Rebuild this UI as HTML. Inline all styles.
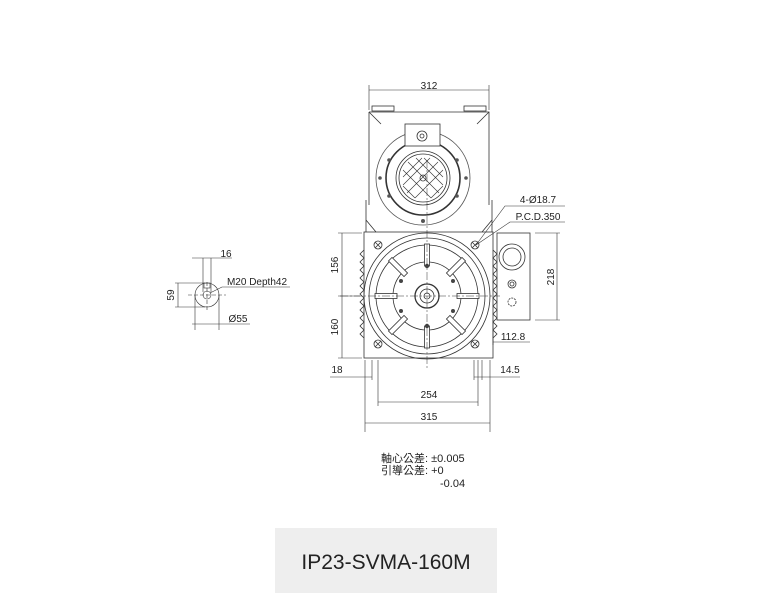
<!DOCTYPE html>
<html><head><meta charset="utf-8"><style>
html,body{margin:0;padding:0;background:#fff;width:768px;height:611px;overflow:hidden}
svg{display:block}
text{font-family:"Liberation Sans","Noto Sans CJK TC",sans-serif;fill:#222}
</style></head><body>
<svg width="768" height="611" viewBox="0 0 768 611">
<defs>
<g id="rib"><rect x="-2.5" y="-52" width="5" height="22" fill="#fff" stroke="#333" stroke-width="0.8"/></g>
</defs>
<g stroke="#333" stroke-width="0.8" fill="none">
<!-- upper housing -->
<path d="M369 112 L489 112 L489 205 M369 112 L369 205"/>
<path d="M369 112 L381 124 M489 112 L477 124"/>
<rect x="372" y="106" width="22" height="5"/><rect x="464" y="106" width="22" height="5"/>
<path d="M366 200 L366 232 M492 200 L492 232 M366 220 L376 232 M492 220 L482 232"/>
<circle cx="423" cy="178" r="47" stroke="#555"/>
<circle cx="423" cy="178" r="37" stroke-width="1.6"/>
<circle cx="423" cy="178" r="27"/>
<circle cx="423" cy="178" r="24"/>
<g fill="#555" stroke="none">
<circle cx="423" cy="221" r="2"/><circle cx="389" cy="160" r="1.8"/><circle cx="457" cy="160" r="1.8"/>
<circle cx="389" cy="196" r="1.8"/><circle cx="457" cy="196" r="1.8"/>
<circle cx="380" cy="178" r="1.8"/><circle cx="466" cy="178" r="1.8"/>
</g>
<rect x="405" y="124" width="35" height="22" fill="#fff"/>
<circle cx="422" cy="136" r="5"/><circle cx="422" cy="136" r="2"/>
<g stroke-width="0.6">
<path d="M403 170 L431 198 M408 162 L439 193 M416 158 L443 185 M403 186 L415 198 M424 158 L443 177"/>
<path d="M443 170 L415 198 M438 162 L407 193 M430 158 L403 185 M443 186 L431 198 M422 158 L403 177"/>
</g>
<circle cx="423" cy="178" r="3"/>
<!-- lower body -->
<rect x="364" y="232" width="129" height="126"/>
<path d="M364 250 l-4 4 l4 4 l-4 4 l4 4 l-4 4 l4 4 l-4 4 l4 4 l-4 4 l4 4 l-4 4 l4 4 l-4 4 l4 4 l-4 4 l4 4 l-4 4 l4 4 l-4 4 l4 4 l-4 4 l4 4"/>
<path d="M493 250 l4 4 l-4 4 l4 4 l-4 4 l4 4 l-4 4 l4 4 l-4 4 l4 4 l-4 4 l4 4 l-4 4 l4 4 l-4 4 l4 4 l-4 4 l4 4 l-4 4 l4 4 l-4 4 l4 4 l-4 4"/>
<circle cx="427" cy="296" r="63"/>
<circle cx="427" cy="296" r="58"/>
<circle cx="427" cy="296" r="51"/>
<circle cx="427" cy="296" r="34"/>
<g transform="translate(427,296)">
<use href="#rib"/><use href="#rib" transform="rotate(45)"/><use href="#rib" transform="rotate(90)"/><use href="#rib" transform="rotate(135)"/>
<use href="#rib" transform="rotate(180)"/><use href="#rib" transform="rotate(225)"/><use href="#rib" transform="rotate(270)"/><use href="#rib" transform="rotate(315)"/>
</g>
<circle cx="427" cy="296" r="12" stroke-width="1.3"/>
<circle cx="427" cy="296" r="7"/>
<circle cx="427" cy="296" r="3"/>
<g fill="#444" stroke="none">
<circle cx="427" cy="266" r="2.2"/><circle cx="427" cy="326" r="2.2"/>
<circle cx="401" cy="281" r="2"/><circle cx="453" cy="281" r="2"/>
<circle cx="401" cy="311" r="2"/><circle cx="453" cy="311" r="2"/>
</g>
<g>
<circle cx="378" cy="245" r="4"/><path d="M375 242 l6 6 M381 242 l-6 6"/>
<circle cx="475" cy="245" r="4"/><path d="M472 242 l6 6 M478 242 l-6 6"/>
<circle cx="378" cy="344" r="4"/><path d="M375 341 l6 6 M381 341 l-6 6"/>
<circle cx="475" cy="344" r="4"/><path d="M472 341 l6 6 M478 341 l-6 6"/>
</g>
<!-- terminal box -->
<rect x="497" y="233" width="33" height="87"/>
<circle cx="512" cy="257" r="13"/><circle cx="512" cy="257" r="9"/>
<circle cx="512" cy="284" r="4"/><circle cx="512" cy="284" r="2"/><circle cx="512" cy="302" r="4" stroke-dasharray="2 1"/>
<!-- center lines -->
<path d="M427 160 L427 370 M340 296 L500 296" stroke-width="0.5" stroke-dasharray="8 2 2 2"/>
<!-- dims -->
<g stroke-width="0.6">
<path d="M369 90 L489 90 M369 85 L369 110 M489 85 L489 110"/>
<path d="M338 233 L362 233 M338 358 L362 358 M342 233 L342 358 M338 296 L360 296"/>
<path d="M535 233 L560 233 M535 320 L560 320 M557 233 L557 320"/>
<path d="M493 342 L530 342 M493 320 L493 345"/>
<path d="M365 360 L365 432 M490 360 L490 432 M365 423 L490 423"/>
<path d="M378 360 L378 406 M478 360 L478 406 M378 402 L478 402"/>
<path d="M372 360 L372 380 M330 377 L372 377"/>
<path d="M474 360 L474 380 M482 360 L482 380 M474 377 L520 377"/>
<path d="M476 245 L510 222 L565 222 M476 245 L505 206 L565 206"/>
<!-- shaft -->
<circle cx="207" cy="295" r="12"/><circle cx="207" cy="295" r="4"/>
<rect x="204" y="283" width="6" height="5"/>
<path d="M203 258 L203 292 M211 258 L211 292 M192 258 L232 258"/>
<path d="M175 283 L205 283 M175 307 L205 307 M178 283 L178 307"/>
<path d="M195 295 L195 330 M219 295 L219 330 M192 324 L250 324"/>
<path d="M210 293 L222 287 L290 287"/>
<path d="M188 295 L226 295 M207 282 L207 310" stroke-dasharray="4 2"/>
</g>
</g>
<g font-size="10" text-anchor="middle">
<text x="429" y="89">312</text>
<text x="429" y="398">254</text>
<text x="429" y="420">315</text>
<text x="337" y="373">18</text>
<text x="510" y="373">14.5</text>
<text x="513" y="340">112.8</text>
<text x="538" y="203">4-Ø18.7</text>
<text x="538" y="220">P.C.D.350</text>
<text x="226" y="257">16</text>
<text x="257" y="285">M20 Depth42</text>
<text x="238" y="322">Ø55</text>
<text transform="translate(338,265) rotate(-90)">156</text>
<text transform="translate(338,327) rotate(-90)">160</text>
<text transform="translate(554,277) rotate(-90)">218</text>
<text transform="translate(174,295) rotate(-90)">59</text>
</g>
<g font-size="11">
<text x="381" y="462">軸心公差: ±0.005</text>
<text x="381" y="474">引導公差: +0</text>
<text x="440" y="487">-0.04</text>
</g>
<rect x="275" y="528" width="222" height="65" fill="#eeeeee"/>
<text x="386" y="569" font-size="21" text-anchor="middle" fill="#222">IP23-SVMA-160M</text>
</svg>
</body></html>
